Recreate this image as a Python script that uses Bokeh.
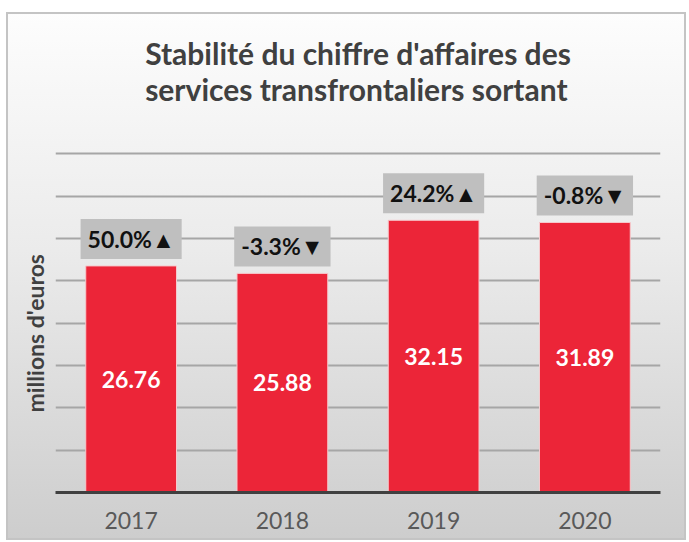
import math
from bokeh.plotting import figure
from bokeh.models import ColumnDataSource, FactorRange, FixedTicker, Title
from bokeh.core.properties import value
from bokeh.embed import file_html
from bokeh.resources import INLINE

# ---- data ----
years = ["2017", "2018", "2019", "2020"]
revenue = [26.76, 25.88, 32.15, 31.89]
value_text = ["26.76", "25.88", "32.15", "31.89"]
change_text = ["50.0%\u25B2", "-3.3%\u25BC", "24.2%\u25B2", "-0.8%\u25BC"]
y_ticks = [5, 10, 15, 20, 25, 30, 35, 40]
y_max = 45
title_line1 = "Stabilit\u00e9 du chiffre d'affaires des"
title_line2 = "services transfrontaliers sortant"
y_label = "millions d'euros"

FONT = "Lato"

src = ColumnDataSource(dict(
    year=years,
    revenue=revenue,
    mid=[v / 2 for v in revenue],
    vtext=value_text,
    ctext=change_text,
))

p = figure(
    x_range=FactorRange(*years),
    y_range=(0, y_max),
    width=680, height=528,
    output_backend="svg",
    toolbar_location=None,
    min_border_left=49, min_border_right=26,
    min_border_top=99, min_border_bottom=48,
)
p.margin = (12, 0, 0, 6)
p.styles = {
    "background": "linear-gradient(to bottom, #fdfdfd 0%, #ebebeb 45%, #cdcdcd 100%)",
    "box-shadow": "inset 0 0 0 2px #c4c4c4",
}
p.background_fill_alpha = 0
p.border_fill_alpha = 0
p.outline_line_color = None

# two-line title
p.title.visible = False
t = Title(text=title_line1 + "\n" + title_line2, align="center", text_font=FONT,
          text_font_size="30px", text_font_style="bold", text_color="#404040",
          standoff=10)
p.add_layout(t, "above")

# y label as a left title (offset from the frame bottom)
ylab = Title(text=y_label, align="left", offset=80, text_font=FONT,
             text_font_size="23px", text_font_style="bold",
             text_color="#404040", standoff=14)
p.add_layout(ylab, "left")

# grid
p.xgrid.visible = False
p.ygrid.ticker = FixedTicker(ticks=y_ticks)
p.ygrid.grid_line_color = "#a6a6a6"
p.ygrid.grid_line_width = 2
p.yaxis.visible = False

# x axis
p.xaxis.axis_line_color = "#404040"
p.xaxis.axis_line_width = 3
p.xaxis.major_tick_line_color = None
p.xaxis.minor_tick_line_color = None
p.xaxis.major_label_text_font = FONT
p.xaxis.major_label_text_font_size = "23px"
p.xaxis.major_label_text_color = "#595959"
p.xaxis.major_label_standoff = 13

# bars
p.vbar(x="year", top="revenue", width=0.6, source=src,
       fill_color="#ec2538", line_color="#f6c9cc", line_width=1)

# value labels inside bars
p.text(x="year", y="mid", text="vtext", source=src,
       text_font=value(FONT), text_font_size="23px", text_font_style="bold",
       text_color="white", text_align="center", text_baseline="middle")

# change labels above bars
p.text(x="year", y="revenue", text="ctext", source=src,
       text_font=value(FONT), text_font_size="23px", text_font_style="bold",
       text_color="#111111", text_align="center", text_baseline="bottom",
       y_offset=-7,
       background_fill_color="#bfbfbf",
       padding=dict(left=7, right=7, top=6, bottom=6))

open("out.html", "w").write(file_html(p, INLINE))
